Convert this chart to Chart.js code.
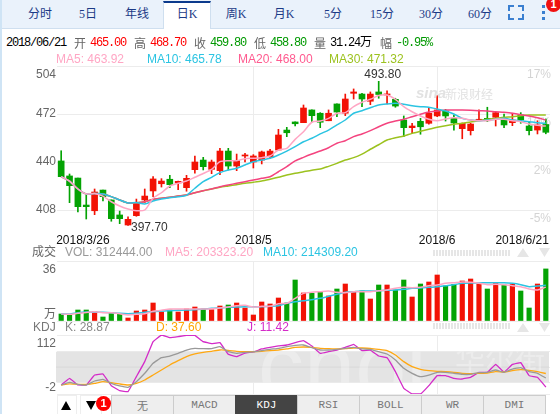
<!DOCTYPE html>
<html>
<head>
<meta charset="utf-8">
<script src="https://cdn.jsdelivr.net/npm/chart.js@4"></script>
<style>
  html, body { margin: 0; padding: 0; background: #fff; }
  #wrap { position: relative; width: 560px; height: 414px; overflow: hidden; font: 12px "Liberation Sans", "Noto Sans CJK SC", sans-serif; }
  #wrap canvas { position: absolute; left: 0; }
  #edge { position: absolute; left: 0; top: 0; width: 2px; height: 414px; background: #cfe4f5; }
  #topbar { position: absolute; left: 2px; top: 0; width: 558px; height: 28px; background: #eaf2fb; border-bottom: 1px solid #cfdfef; }
  .tab { position: absolute; top: 6px; width: 48px; margin-left: -24px; text-align: center; color: #1c3a86; font: 12px/16px "Liberation Serif", "Noto Sans CJK SC", serif; }
  #active { position: absolute; left: 163px; top: 1px; width: 48px; height: 28px; box-sizing: border-box; background: #fff; border-top: 2px solid #0b3a8c; border-left: 1px solid #cfdfef; border-right: 1px solid #cfdfef; }
  .s { position: absolute; top: 36px; font: 12px/14px "Liberation Mono", "Noto Sans CJK SC", monospace; letter-spacing: -1.2px; white-space: nowrap; }
  .c { position: absolute; top: 36px; color: #666; font: 12px/14px "Noto Sans CJK SC", sans-serif; }
  .m { position: absolute; font: 12px/14px "Liberation Sans", "Noto Sans CJK SC", sans-serif; white-space: nowrap; }
  .dots { position: absolute; left: 433px; width: 77px; height: 6px; background: repeating-linear-gradient(90deg, #e6e6e6 0 2px, transparent 2px 3px); }
  .btn { position: absolute; top: 395px; height: 19px; box-sizing: border-box; background: #eee; border: 1px solid #ccc; border-bottom: 0; color: #777; text-align: center; font: 11px/19px "Liberation Mono", "Noto Sans CJK SC", monospace; }
  .arrow { position: absolute; top: 395px; height: 19px; box-sizing: border-box; border: 1px solid #eee; border-bottom: 0; background: #fff; }
  #badge { position: absolute; left: 96px; top: 396px; width: 15px; height: 15px; border-radius: 50%; background: #f00; color: #fff; text-align: center; font: bold 11px/15px "Liberation Sans", sans-serif; }
  #badge2 { position: absolute; left: 546px; top: -3px; width: 15px; height: 15px; border-radius: 50%; background: #f01010; color: #fff; text-align: center; font: bold 11px/15px "Liberation Sans", sans-serif; }
  .corner { position: absolute; width: 4px; height: 4px; border: 0 solid #3a7fd0; }
  .dot { position: absolute; left: 542px; width: 3px; height: 3px; background: #3a7fd0; }
  .mark { position: absolute; color: #e2e2e2; white-space: nowrap; }
</style>
</head>
<body>
<div id="wrap">
  <canvas id="priceChart" width="560" height="186" style="top:60px"></canvas>
  <canvas id="volChart" width="560" height="70" style="top:255px"></canvas>
  <canvas id="kdjChart" width="560" height="66" style="top:330px"></canvas>

  <div id="edge"></div>
  <div id="topbar"></div>
  <div id="active"></div>
  <span class="tab" style="left:40px">分时</span>
  <span class="tab" style="left:88px">5日</span>
  <span class="tab" style="left:137px">年线</span>
  <span class="tab" style="left:187px">日K</span>
  <span class="tab" style="left:236px">周K</span>
  <span class="tab" style="left:284px">月K</span>
  <span class="tab" style="left:333px">5分</span>
  <span class="tab" style="left:382px">15分</span>
  <span class="tab" style="left:431px">30分</span>
  <span class="tab" style="left:480px">60分</span>
  <i class="corner" style="left:508px;top:5px;border-width:2px 0 0 2px"></i>
  <i class="corner" style="left:518px;top:5px;border-width:2px 2px 0 0"></i>
  <i class="corner" style="left:508px;top:14px;border-width:0 0 2px 2px"></i>
  <i class="corner" style="left:518px;top:14px;border-width:0 2px 2px 0"></i>
  <i class="dot" style="top:5px"></i><i class="dot" style="top:11px"></i><i class="dot" style="top:17px"></i>
  <span id="badge2">1</span>

  <span class="s" style="left:6px;color:#000">2018/06/21</span>
  <span class="c" style="left:74px">开</span><span class="s" style="left:90px;color:#f00">465.00</span>
  <span class="c" style="left:134px">高</span><span class="s" style="left:150px;color:#f00">468.70</span>
  <span class="c" style="left:194px">收</span><span class="s" style="left:210px;color:#090">459.80</span>
  <span class="c" style="left:254px">低</span><span class="s" style="left:270px;color:#090">458.80</span>
  <span class="c" style="left:314px">量</span><span class="s" style="left:330px;color:#000">31.24<span style="letter-spacing:0">万</span></span>
  <span class="c" style="left:380px">幅</span><span class="s" style="left:396px;color:#090">-0.95%</span>

  <span class="m" style="left:56px;top:52px;color:#ffa6c4">MA5: 463.92</span>
  <span class="m" style="left:147px;top:52px;color:#2bc4e2">MA10: 465.78</span>
  <span class="m" style="left:238px;top:52px;color:#ff5a8f">MA20: 468.00</span>
  <span class="m" style="left:329px;top:52px;color:#9cc21f">MA30: 471.32</span>

  <span class="mark" style="left:416px;top:85px;font:italic bold 15px/16px 'Liberation Sans',sans-serif">sina</span>
  <span class="mark" style="left:445px;top:86px;font:12px/16px 'Noto Sans CJK SC',sans-serif">新浪财经</span>

  <span class="m" style="left:32px;top:245px;color:#666">成交</span>
  <span class="m" style="left:65px;top:245px;color:#999">VOL: 312444.00</span>
  <span class="m" style="left:165px;top:245px;color:#ffa6c4">MA5: 203323.20</span>
  <span class="m" style="left:263px;top:245px;color:#2bc4e2">MA10: 214309.20</span>
  <span class="dots" style="top:250px"></span>
  <svg style="position:absolute;left:517px;top:248px" width="33" height="9"><path d="M0 9 L6 0 L12 9Z M22 0 L33 0 L27.5 9Z" fill="#e6e6e6"/></svg>

  <span class="m" style="left:33px;top:320px;color:#777">KDJ</span>
  <span class="m" style="left:65px;top:320px;color:#888">K: 28.87</span>
  <span class="m" style="left:156px;top:320px;color:#ffa500">D: 37.60</span>
  <span class="m" style="left:247px;top:320px;color:#d42bc8">J: 11.42</span>
  <span class="dots" style="top:323px"></span>
  <svg style="position:absolute;left:517px;top:323px" width="33" height="9"><path d="M0 9 L6 0 L12 9Z M22 0 L33 0 L27.5 9Z" fill="#e6e6e6"/></svg>

  <span class="arrow" style="left:57px;width:20px"></span>
  <span class="arrow" style="left:80px;width:22px"></span>
  <svg style="position:absolute;left:61px;top:401px" width="36" height="9"><path d="M0 9 L5 0 L10 9Z M25 0 L35 0 L30 9Z" fill="#000"/></svg>
  <span id="badge">1</span>
  <span class="btn" style="left:111px;width:63px;font-family:'Noto Sans CJK SC',sans-serif">无</span>
  <span class="btn" style="left:173px;width:63px">MACD</span>
  <span class="btn" style="left:235px;width:63px;background:#444;color:#fff;border-color:#444">KDJ</span>
  <span class="btn" style="left:297px;width:63px">RSI</span>
  <span class="btn" style="left:359px;width:63px">BOLL</span>
  <span class="btn" style="left:421px;width:63px">WR</span>
  <span class="btn" style="left:483px;width:63px">DMI</span>
</div>

<script>
// trading days shown on the chart
const dates = [
  '3/26','3/27','3/28','3/29','3/30',
  '4/2','4/3','4/4','4/9','4/10','4/11','4/12','4/13',
  '4/16','4/17','4/18','4/19','4/20','4/23','4/24','4/25','4/26','4/27',
  '5/2','5/3','5/4','5/7','5/8','5/9','5/10','5/11','5/14','5/15','5/16','5/17','5/18',
  '5/21','5/22','5/23','5/24','5/25','5/28','5/29','5/30','5/31',
  '6/1','6/4','6/5','6/6','6/7','6/8','6/11','6/12','6/13','6/14','6/15','6/19','6/20','6/21'
];

const opens = [440.7,430.7,429.3,411.3,407.5,421.3,414.7,404.7,398,404.2,414.7,420.7,425.5,428.5,426,422.9,434.9,441.3,435.1,434.2,447.3,437.3,444,440,441.3,443.5,448,461.3,466.7,466.2,474.7,472.5,467.5,478.7,472.5,485.8,485.3,480.5,486.7,484.7,481.8,468,462.9,467.1,465.8,470.7,474,469.1,462.2,460.9,467.8,469.1,469.8,468,466.2,471.3,464,461.3,465];
const closes = [430.2,424.2,410.2,410.2,420,416.9,402.2,402.2,401.8,412.7,417.3,428.7,427.3,424.9,427.1,429.1,440,436.9,440,447.3,437.3,440.9,444.7,444,446.7,447.3,458,459.5,465.5,476,470.9,466.5,472.5,473.3,482,486.7,482,485.3,485,485.3,477.3,462.9,464,463.5,472.5,474.7,470.7,466,465.8,465.3,468.5,467.5,472.9,464.7,468,468,460.9,464.7,459.8];
const highs = [447.5,432,429.3,418,422,421.3,414.7,407.3,403.5,415.3,422,430.2,428.9,431.1,427.3,431.1,444,443.1,441.3,449.1,449.1,445.3,445.8,444.9,447.3,448.5,461.8,463.1,466.7,478,474.7,472.9,474.7,478.7,485.3,488.7,485.8,486.7,493.8,487.5,482.5,470.7,465.8,469.1,476.2,484.2,475.1,471.3,466,465.8,474.7,476.5,473.3,472,472.5,472.9,466.9,467.5,468.7];
const lows = [430.2,412.9,406.7,402,404.9,414,400.5,398.9,397.7,403.8,412.9,416.9,423.3,422.9,421.5,420.5,432.5,434.7,432.2,431.5,434.7,434.2,440,436,438.7,442.5,448,456.9,464,466.2,466.7,462.9,467.5,470.2,470.9,482,476.9,478.2,482.5,478.7,476.5,456.9,459.1,458.5,465.3,470.2,467.3,461.3,455.5,458,467.5,466.9,464,462.9,464.2,465.8,458,458.7,458.8];

const ma5 = [430.2,427.2,422,418.7,419,417.3,413.5,410.7,408.7,407.5,408,415.8,419.5,424,425.8,427.3,429.8,432.3,435.1,440.2,440.9,440.9,442.2,442.5,442.9,444,448,449.1,455.1,460.2,466.5,467.3,469.1,472.5,472.9,476.9,479.8,481.8,484.3,484.7,481.8,476.9,473.5,470.7,468.5,467.5,468.7,469.5,469.1,468,467.5,467.5,468.5,468.5,467.5,466.9,465.3,464.5,463.92];
const ma10 = [430.2,427.2,422,418.7,419,418.7,416.9,414.7,412.7,413,412,414,415.3,416.2,416.9,417.8,422.5,426.9,429.8,432.9,434.7,435.8,438,440.2,441.3,442.5,444.7,447.3,450.2,453.5,455.8,458.7,461.3,464.7,468,472.5,474.2,476.2,478,478.7,479.1,478.5,477.5,476.9,476.5,475.3,474,472,469.1,468,467.5,468,468.5,469.1,468,467.5,466.9,466.2,465.78];
const ma20 = [430.2,427.2,422,418.7,419,418.7,416.9,414.7,412.7,412.9,413.5,415.1,415.8,416.5,417.3,418,419.5,420.9,422,423.5,424.7,425.8,426.9,428,429.1,430.2,433.5,436.9,440.7,443.1,445.3,447.3,449.5,452.5,454.2,456.9,458.7,460.9,463.5,465.8,467.3,468.5,470.2,471.8,473.3,474,474.7,474.7,474.7,474.5,474.2,474,473.5,473.1,472.5,471.5,470.7,469.5,468];
const ma30 = [430.2,427.2,422,418.7,419,418.7,416.9,414.7,412.7,412.9,413.5,415.1,415.8,416.5,417.3,418,419.5,420.9,422,423.1,424,424.9,425.8,426.5,427.3,428.5,429.8,431.3,432.5,433.5,434.5,435.3,437.1,439.1,441.3,442.9,445.3,448.5,451.5,454.7,456.2,457.3,459.1,460.5,461.8,463.1,464.2,465.1,465.8,466.7,467.5,468.5,469.1,469.8,470.2,470.9,471.3,471.3,471.32];

// volume in units of 10k lots
const volumes = [4.2,3.8,6.6,6.6,5.6,2.4,5.2,4.2,1.8,6,6.6,10.8,5.4,6.6,5.4,7.2,8.4,7.2,6.8,9,9.6,10.8,7.8,3.6,11.4,10.2,13.8,10.8,24.6,16.8,16.6,17.2,15,19.2,22.2,17.6,18,13.2,21.6,21.6,18.6,24.6,14.4,22.2,23.4,27.6,21,22,24,25.2,22.2,19.2,22.8,21.6,22.2,18,7.8,22.2,31.24];
const volMa5 = [4.2,4,4.6,5.1,5.5,5,5,4.4,3.6,4,4.4,5.8,6.4,7.2,7.2,7.2,7.2,7.2,7.4,7.8,8.4,9.2,9.4,8.4,8.8,8.8,10.4,10.6,13.6,16.6,17.2,17.6,18,17.2,17,17.6,17.6,17.6,18.2,18.6,19.6,20.2,20,20.2,21.2,21.6,22.6,23,23.4,23.2,22.6,21.8,22,21.8,21.2,20.6,19.2,18.6,20.33];
const volMa10 = [4.2,4.2,5,5.4,5.2,5.2,5,4.6,4.4,4.6,5.2,5.6,6,6.2,6.4,6.6,6.8,7.2,7.6,8,8.2,8.4,8.6,8.6,8.6,8.8,9.2,10.6,11.6,12.2,12.8,13.6,14.8,16,17.2,17.6,18,18,18.2,18.4,18.6,19,19.6,19.8,20.2,20.6,21.2,21.8,22.6,22.8,22.8,23,23,23,22.6,21.8,20.6,21,21.43];

const kValues = [15.4,20.6,16.7,15.4,23.1,26.4,18.6,13.5,10.9,21.9,38,57.3,68.2,71.4,76.6,83,86.3,85.6,85.6,89.5,79.8,76.6,78.5,79.2,81.8,84.3,86.3,89.5,92.1,92.7,87.5,83,83,84.3,86.3,88.2,85,84.3,79.8,75.3,63.7,47.6,38,31.5,34.7,39.9,39.9,38,36,36,39.2,39.9,44.4,39.9,46.3,48.9,41.2,38,28.87];
const dValues = [15.4,17.4,16.7,16.7,18.6,21.9,19.9,17.4,15.4,18.6,25.1,34.7,44.4,54.1,62.4,70.2,75.3,78.5,80.5,83,82.4,80.5,79.8,79.8,80.5,81.8,83,85,88.2,88.8,88.2,86.3,85.6,85,85.6,86.9,86.9,86.3,84.3,81.8,73.4,60.5,50.8,45.7,43.1,41.8,41.2,39.9,38,37.3,38,38.6,41.2,40.5,43.1,45,43.8,41.2,37.6];
const jValues = [15.4,28.3,15.4,15.4,34.7,36.7,14.1,4.5,2.5,31.5,60.5,99.1,112,106.9,108.8,111.4,111.4,99.1,95.3,97.2,74.7,70.2,77.2,79.2,85,88.2,90.8,92.7,97.2,101.1,90.8,76.6,79.8,83,88.2,94,81.8,83,71.4,68.2,41.2,9,-2,-2,14.1,33.5,33.5,28.3,27,30.2,39.9,39.9,55.3,39.9,55.3,58.6,33.5,30.2,11.42];

const priceTicks = [408, 440, 472, 504];
const pctTicks = ['-5%', '2%', '10%', '17%'];
const volTicks = [0, 36];
const kdjTicks = [-2, 20, 50, 80, 112];
const gridDays = ['5/2', '6/1'];

const UP = '#f21205';
const DOWN = '#04a304';
const GRID = '#ececec';
const FONT = '"Liberation Sans", "Noto Sans CJK SC", sans-serif';

const candleColors = closes.map((c, i) => c >= opens[i] ? UP : DOWN);

function lineSet(data, color, width, tension) {
  return { type: 'line', data, borderColor: color, borderWidth: width || 1.5, pointRadius: 0, tension: tension === undefined ? 0.25 : tension, order: 1 };
}

// keep tick labels from pushing the plot area in
function fixAxis(s, w) {
  s.width = w;
  s.paddingTop = 0;
  s.paddingBottom = 0;
}

// shared scales: vertical grid on month starts, left axis with labels
function baseScales(yMin, yMax, yTicks, yLabel, yFont) {
  return {
    x: {
      offset: true,
      border: { display: false },
      ticks: { display: false, autoSkip: false },
      grid: {
        offset: false,
        drawTicks: false,
        color: ctx => gridDays.includes(dates[ctx.index]) ? GRID : 'rgba(0,0,0,0)'
      },
      afterFit: s => { s.height = 0; }
    },
    y: {
      min: yMin,
      max: yMax,
      border: { display: false },
      grid: { color: GRID, drawTicks: false },
      afterBuildTicks: s => { s.ticks = yTicks.map(value => ({ value })); },
      afterFit: s => fixAxis(s, 57),
      ticks: {
        padding: 1,
        color: '#666',
        autoSkip: false,
        font: yFont,
        callback: yLabel
      }
    }
  };
}

function makeChart(id, datasets, scales, top, bottom, plugins) {
  return new Chart(document.getElementById(id), {
    type: 'bar',
    data: { labels: dates, datasets },
    options: {
      responsive: false,
      animation: false,
      devicePixelRatio: 1,
      layout: { padding: { left: 0, right: 10, top, bottom } },
      plugins: { legend: { display: false }, tooltip: { enabled: false } },
      scales
    },
    plugins: plugins || []
  });
}

// date labels under the price panel, plus the high and low price notes
const priceNotes = {
  id: 'priceNotes',
  afterDraw(chart) {
    const { ctx, scales: { x, y } } = chart;
    ctx.save();
    ctx.font = '12px ' + FONT;
    ctx.textBaseline = 'middle';
    ctx.fillStyle = '#111';
    const dy = y.bottom + 7;
    ctx.textAlign = 'left';
    ctx.fillText('2018/3/26', x.getPixelForValue(0) - 5, dy);
    ctx.textAlign = 'center';
    ctx.fillText('2018/5', x.getPixelForValue(dates.indexOf('5/2')), dy);
    ctx.fillText('2018/6', x.getPixelForValue(dates.indexOf('6/1')), dy);
    ctx.textAlign = 'right';
    ctx.fillText('2018/6/21', x.getPixelForValue(dates.length - 1) + 3, dy);
    ctx.fillStyle = '#333';
    const hi = highs.indexOf(Math.max(...highs));
    const lo = lows.indexOf(Math.min(...lows));
    ctx.textAlign = 'center';
    ctx.fillText(highs[hi].toFixed(2), x.getPixelForValue(hi) + 4, y.getPixelForValue(highs[hi]) - 7);
    ctx.textAlign = 'left';
    ctx.fillText(lows[lo].toFixed(2), x.getPixelForValue(lo) + 3, y.getPixelForValue(lows[lo]) + 2);
    ctx.restore();
  }
};

// grey 20-80 band with the watermark behind the kdj lines
const kdjBand = {
  id: 'kdjBand',
  beforeDatasetsDraw(chart) {
    const { ctx, scales: { y }, chartArea: a } = chart;
    const top = y.getPixelForValue(80);
    const h = y.getPixelForValue(20) - top;
    ctx.save();
    ctx.beginPath();
    ctx.rect(a.left - 1, top, a.width, h);
    ctx.clip();
    ctx.fillStyle = '#e4e4e4';
    ctx.fillRect(a.left - 1, top, a.width, h);
    ctx.strokeStyle = '#d8d8d8';
    ctx.beginPath();
    ctx.moveTo(a.left - 1, y.getPixelForValue(50));
    ctx.lineTo(a.right, y.getPixelForValue(50));
    ctx.stroke();
    ctx.fillStyle = 'rgba(255,255,255,0.3)';
    ctx.textBaseline = 'alphabetic';
    ctx.font = '92px ' + FONT;
    ctx.fillText('cnol', 258, top + 46);
    ctx.font = '30px "Noto Sans CJK SC", sans-serif';
    ctx.fillText('华尔街', 455, top + 18);
    ctx.restore();
  }
};

makeChart('priceChart', [
  lineSet(ma5, '#ffa6c4'),
  lineSet(ma10, '#2bc4e2'),
  lineSet(ma20, '#f4447f'),
  lineSet(ma30, '#9cc21f'),
  { data: lows.map((l, i) => [l, highs[i]]), backgroundColor: candleColors, barThickness: 1, grouped: false, order: 3 },
  { data: opens.map((o, i) => [o, closes[i]]), backgroundColor: candleColors, barThickness: 6, minBarLength: 1, grouped: false, order: 2 }
], Object.assign(
  baseScales(392, 504, priceTicks, v => v === 504 ? ['', '504'] : String(v), { size: 12, family: FONT, lineHeight: 1.5 }),
  {
    y2: {
      position: 'right',
      min: 392,
      max: 504,
      border: { display: false },
      grid: { display: false, drawTicks: false },
      afterBuildTicks: s => { s.ticks = priceTicks.map(value => ({ value })); },
      afterFit: s => fixAxis(s, 0),
      ticks: {
        mirror: true,
        padding: 1,
        color: '#d4d4d4',
        autoSkip: false,
        font: { size: 12, family: FONT, lineHeight: 1.5 },
        callback: (v, i) => ['', pctTicks[i]]
      }
    }
  }
), 6, 12, [priceNotes]);

makeChart('volChart', [
  lineSet(volMa5, '#ffa6c4'),
  lineSet(volMa10, '#2bc4e2'),
  { data: volumes, backgroundColor: candleColors, barThickness: 4.5, grouped: false, order: 2 }
], baseScales(0, 36, volTicks, v => v === 0 ? ['万', ''] : ['', String(v)],
  ctx => ({ size: 12, family: FONT, lineHeight: ctx.tick && ctx.tick.value === 0 ? 1 : 1.5 })
), 6, 4);

makeChart('kdjChart', [
  lineSet(kValues, '#999999', 1.3, 0.1),
  lineSet(dValues, '#ffa812', 1.3, 0.1),
  lineSet(jValues, '#d42bc8', 1.3, 0.05)
], baseScales(-2, 112, kdjTicks, v => v === 112 ? ['', '112'] : v === -2 ? ['-2', ''] : '',
  ctx => ({ size: 12, family: FONT, lineHeight: ctx.tick && ctx.tick.value === -2 ? 1 : 1.5 })
), 5, 2, [kdjBand]);
</script>
</body>
</html>
